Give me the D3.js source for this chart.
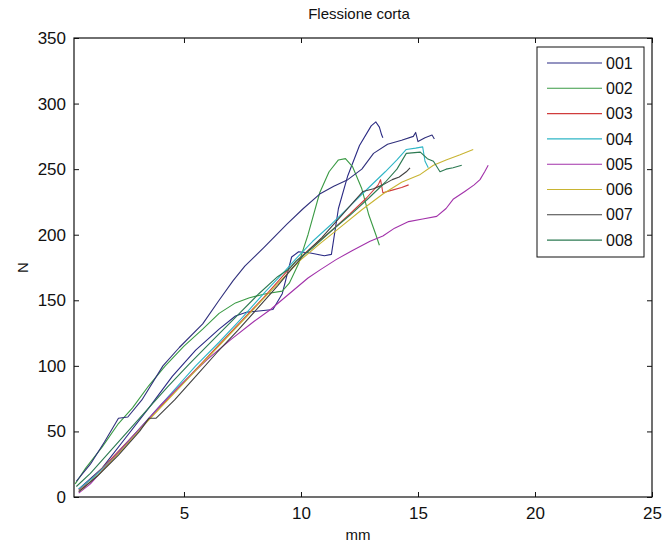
<!DOCTYPE html>
<html>
<head>
<meta charset="utf-8">
<script src="https://cdn.jsdelivr.net/npm/d3@7"></script>
<style>
  html, body { margin: 0; padding: 0; background: #fff; }
  svg { display: block; }
  text { font-family: "Liberation Sans Narrow", "Liberation Sans", Arial, sans-serif; fill: #111; }
</style>
</head>
<body>
<svg id="chart" width="665" height="544"></svg>
<script>
// Load/deflection curves, short bending test (x in mm, y in N)
const seriesNames = ["001", "002", "003", "004", "005", "006", "007", "008", ""];
const seriesColors = ["#2a2a84", "#3a9a44", "#d03c3c", "#2fb6c6", "#a232aa", "#c8b432", "#404040", "#2c7a52", "#30307c"];

const s001 = [[0.5,6],[1.5,22],[2.5,45],[3.5,68],[4.5,92],[5.5,112],[6.5,128],[7.2,138],[7.7,141],[8.3,142],[8.8,143],[9.2,155],[9.6,183],[9.9,187],[10.4,186],[11.0,184],[11.3,185],[11.6,220],[12.0,245],[12.5,268],[13.0,283],[13.2,286],[13.35,282],[13.45,276],[13.5,274]];
const s002 = [[0.35,10],[0.8,22],[1.5,38],[2.2,56],[2.8,68],[3.5,85],[4.2,100],[5.0,115],[5.8,128],[6.5,140],[7.2,148],[7.8,152],[8.5,155],[9.2,157],[9.5,163],[9.9,178],[10.3,200],[10.8,232],[11.2,248],[11.6,257],[11.9,258],[12.2,252],[12.6,235],[12.9,215],[13.2,200],[13.35,192]];
const s003 = [[0.5,5],[1.3,18],[2.1,33],[3.0,50],[3.9,67],[4.8,84],[5.7,101],[6.6,118],[7.5,135],[8.4,152],[9.2,168],[9.8,180],[10.5,191],[11.3,203],[12.1,216],[12.8,228],[13.3,238],[13.4,242],[13.5,232],[13.9,234],[14.3,236],[14.6,238]];
const s004 = [[0.5,6],[1.2,16],[2.0,30],[2.8,46],[3.6,62],[4.5,80],[5.5,100],[6.5,118],[7.5,137],[8.5,157],[9.3,172],[9.8,182],[10.5,195],[11.3,208],[12.1,222],[12.9,236],[13.6,248],[14.1,257],[14.5,265],[14.9,266],[15.2,267],[15.3,256],[15.44,251]];
const s005 = [[0.5,3],[1.0,10],[2.0,30],[3.0,50],[4.0,70],[5.0,88],[6.0,105],[7.0,120],[8.0,134],[8.7,143],[9.5,155],[10.3,167],[10.8,173],[11.5,181],[12.2,188],[12.95,195],[13.5,199],[14.0,205],[14.6,210],[15.2,212],[15.8,214],[16.2,220],[16.5,227],[17.0,233],[17.4,238],[17.65,242],[17.85,248],[18.0,253]];
const s006 = [[0.6,5],[1.4,18],[2.3,35],[3.2,53],[4.1,70],[5.0,87],[5.9,104],[6.8,121],[7.7,138],[8.6,155],[9.4,170],[10.0,181],[10.8,193],[11.7,206],[12.6,219],[13.5,231],[14.3,240],[15.1,246],[15.66,253],[16.2,257],[16.8,261],[17.36,265]];
const s007 = [[0.5,4],[1.3,16],[2.2,32],[3.1,50],[3.5,60],[3.8,60],[4.6,74],[5.5,92],[6.4,110],[7.3,127],[8.2,145],[9.0,161],[9.6,174],[10.2,186],[10.9,198],[11.7,214],[12.2,224],[12.65,233],[13.1,235],[13.5,238],[13.9,242],[14.2,244],[14.5,248],[14.66,251]];
const s008 = [[0.4,8],[1.0,18],[1.8,34],[2.6,50],[3.4,66],[4.3,84],[5.2,101],[6.2,119],[7.2,137],[8.2,155],[9.0,168],[9.5,174],[9.8,180],[10.5,190],[11.3,203],[12.1,215],[12.9,228],[13.6,240],[14.1,250],[14.5,262],[15.1,263],[15.4,258],[15.66,256],[15.94,248],[16.2,250],[16.5,251],[16.87,253]];
const s009 = [[0.4,12],[1.0,25],[1.6,42],[2.2,60],[2.6,61],[3.2,74],[4.1,100],[4.8,114],[5.8,132],[6.5,150],[7.1,165],[7.6,176],[8.4,190],[9.4,208],[10.1,220],[10.8,231],[11.4,237],[12.0,242],[12.6,250],[13.1,262],[13.7,269],[14.3,272],[14.8,275],[14.9,278],[15.0,271],[15.3,274],[15.6,276],[15.7,273]];
const allSeries = [s001, s002, s003, s004, s005, s006, s007, s008, s009];

const xTicks = [5, 10, 15, 20, 25];
const yTicks = [0, 50, 100, 150, 200, 250, 300, 350];
const xDomain = [0.3, 25];
const yDomain = [0, 350];

const titleText = "Flessione corta";
const xLabel = "mm";
const yLabel = "N";

const plotLeft = 74, plotRight = 652, plotTop = 38, plotBottom = 497;
const svg = d3.select("#chart");

const x = d3.scaleLinear().domain(xDomain).range([plotLeft, plotRight]);
const y = d3.scaleLinear().domain(yDomain).range([plotBottom, plotTop]);

// curves
const line = d3.line().x(d => x(d[0])).y(d => y(d[1]));
const plot = svg.append("g");
allSeries.forEach((s, i) => {
  plot.append("path")
    .attr("d", line(s))
    .attr("fill", "none")
    .attr("stroke", seriesColors[i])
    .attr("stroke-width", 1.1)
    .attr("stroke-linejoin", "round");
});

// axes box with inward ticks on all four sides
const tickLen = 5;
const axB = svg.append("g").attr("transform", `translate(0,${plotBottom})`)
  .call(d3.axisBottom(x).tickValues(xTicks).tickSizeInner(-tickLen).tickSizeOuter(0).tickPadding(10));
const axT = svg.append("g").attr("transform", `translate(0,${plotTop})`)
  .call(d3.axisTop(x).tickValues(xTicks).tickSizeInner(-tickLen).tickSizeOuter(0).tickFormat(""));
const axL = svg.append("g").attr("transform", `translate(${plotLeft},0)`)
  .call(d3.axisLeft(y).tickValues(yTicks).tickSizeInner(-tickLen).tickSizeOuter(0).tickPadding(8));
const axR = svg.append("g").attr("transform", `translate(${plotRight},0)`)
  .call(d3.axisRight(y).tickValues(yTicks).tickSizeInner(-tickLen).tickSizeOuter(0).tickFormat(""));
[axB, axT, axL, axR].forEach(a => {
  a.select(".domain").remove();
  a.selectAll("line").attr("stroke", "#111").attr("stroke-width", 1);
  a.selectAll("text").attr("font-size", 17).attr("fill", "#111")
    .style("font-family", '"Liberation Sans Narrow", "Liberation Sans", Arial, sans-serif');
});
svg.append("rect")
  .attr("x", plotLeft).attr("y", plotTop)
  .attr("width", plotRight - plotLeft).attr("height", plotBottom - plotTop)
  .attr("fill", "none").attr("stroke", "#111").attr("stroke-width", 1.2);

// labels
svg.append("text").attr("x", (plotLeft + plotRight) / 2 - 4).attr("y", 19)
  .attr("text-anchor", "middle").attr("font-size", 15).text(titleText);
svg.append("text").attr("x", (plotLeft + plotRight) / 2 - 5).attr("y", 540)
  .attr("text-anchor", "middle").attr("font-size", 15).text(xLabel);
svg.append("text").attr("transform", `translate(28,${(plotTop + plotBottom) / 2}) rotate(-90)`)
  .attr("text-anchor", "middle").attr("font-size", 15).text(yLabel);

// legend
const legX = 537, legY = 47, legW = 107, legH = 210, rowH = 25.3;
const legend = svg.append("g");
legend.append("rect").attr("x", legX).attr("y", legY).attr("width", legW).attr("height", legH)
  .attr("fill", "#fff").attr("stroke", "#111").attr("stroke-width", 1);
seriesNames.slice(0, 8).forEach((name, i) => {
  const cy = legY + 16 + i * rowH;
  legend.append("line").attr("x1", legX + 10).attr("x2", legX + 65)
    .attr("y1", cy).attr("y2", cy).attr("stroke", seriesColors[i]).attr("stroke-width", 1.1);
  legend.append("text").attr("x", legX + 69).attr("y", cy).attr("dy", "0.35em")
    .attr("font-size", 16).text(name);
});
</script>
</body>
</html>
